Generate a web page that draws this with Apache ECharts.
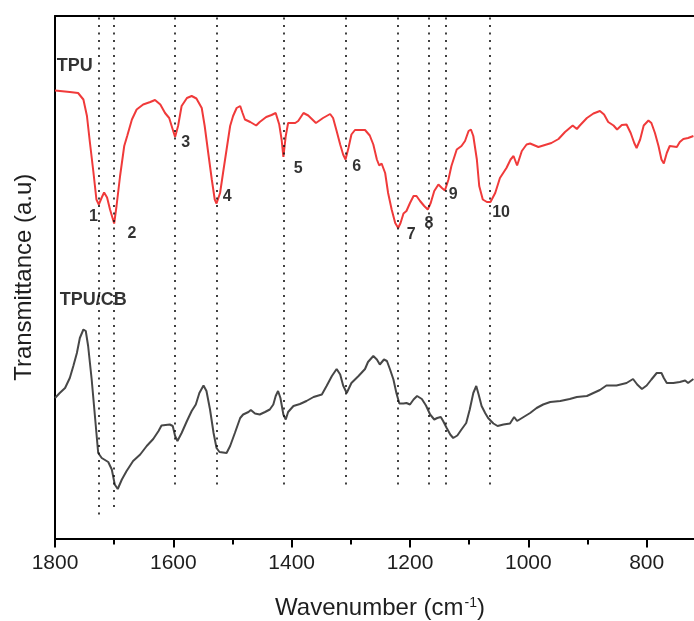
<!DOCTYPE html>
<html>
<head>
<meta charset="utf-8">
<title>FTIR spectra of TPU and TPU/CB</title>
<script src="https://cdn.jsdelivr.net/npm/echarts@6/dist/echarts.min.js"></script>
<style>
  html, body { margin: 0; padding: 0; background: #fff; }
  #chart { width: 694px; height: 621px; }
</style>
</head>
<body>
<div id="chart"></div>
<script>
// FTIR transmittance spectra, [wavenumber (cm-1), transmittance (a.u.)]
const tpuSpectrum = [
  [1800,89.6],[1775,89.3],[1761,89.1],[1752,87.8],[1746,84.5],[1741,79.2],[1735,73.2],[1730,67.8],
  [1726,66.8],[1721,68.2],[1717,69.2],[1712,68.2],[1707,65.8],[1700,63.0],[1696,66.5],[1690,72.5],
  [1683,78.5],[1678,80.5],[1670,83.8],[1662,85.8],[1651,86.8],[1639,87.3],[1631,87.7],[1622,86.8],
  [1614,85.1],[1607,84.1],[1601,81.8],[1597,80.3],[1592,82.5],[1586,86.5],[1577,88.1],[1569,88.5],
  [1561,88.0],[1552,86.1],[1547,82.5],[1541,77.1],[1535,71.8],[1530,67.8],[1527,67.0],[1521,69.1],
  [1516,73.1],[1510,77.8],[1504,82.5],[1499,84.5],[1493,86.1],[1487,86.5],[1483,85.1],[1479,83.8],
  [1470,83.3],[1460,82.6],[1454,83.3],[1443,84.3],[1434,84.7],[1427,85.1],[1421,82.8],[1417,79.8],
  [1414,76.3],[1410,80.5],[1406,83.1],[1403,83.5],[1394,83.1],[1389,83.5],[1380,85.1],[1372,84.6],
  [1359,83.1],[1347,84.1],[1335,84.9],[1330,84.1],[1324,81.5],[1318,78.8],[1313,76.8],[1309,75.8],
  [1304,78.1],[1299,80.8],[1293,81.7],[1276,81.7],[1268,80.6],[1262,78.8],[1256,75.8],[1252,74.6],
  [1248,75.0],[1242,73.1],[1237,69.1],[1231,65.8],[1225,63.1],[1220,62.1],[1216,63.1],[1211,65.0],
  [1206,65.5],[1200,67.1],[1194,68.5],[1189,68.5],[1183,67.5],[1176,66.5],[1170,65.8],[1165,67.1],
  [1159,69.5],[1152,70.8],[1146,70.1],[1141,69.6],[1135,71.8],[1130,74.5],[1121,77.8],[1113,78.5],
  [1107,79.5],[1101,81.5],[1097,81.8],[1093,80.5],[1087,75.8],[1083,70.5],[1077,67.8],[1070,67.3],
  [1064,67.3],[1056,69.1],[1048,72.1],[1037,74.1],[1030,75.8],[1025,76.5],[1019,74.6],[1011,77.5],
  [1003,78.8],[997,79.0],[983,78.3],[972,78.7],[961,79.1],[949,79.9],[938,81.3],[925,82.6],
  [918,81.9],[913,82.6],[901,84.1],[890,85.0],[879,85.5],[872,84.8],[865,83.3],[856,82.6],
  [850,81.8],[842,82.7],[834,82.8],[827,81.1],[821,79.1],[817,78.1],[811,79.8],[805,82.6],
  [797,83.6],[792,83.1],[786,81.1],[780,78.5],[775,75.8],[771,75.0],[766,77.1],[761,78.5],
  [749,78.3],[744,79.3],[738,79.9],[730,80.1],[721,80.5]
];

const tpuCbSpectrum = [
  [1800,28.1],[1792,29.1],[1783,30.1],[1775,32.1],[1769,34.5],[1763,37.1],[1758,40.1],[1752,41.8],
  [1748,41.5],[1744,38.5],[1738,31.8],[1732,23.8],[1727,17.1],[1721,16.1],[1710,15.3],[1704,13.8],
  [1699,10.8],[1694,9.9],[1687,11.8],[1679,13.5],[1668,15.5],[1656,16.8],[1645,18.5],[1634,19.9],
  [1625,21.5],[1620,22.6],[1606,22.8],[1601,22.5],[1597,20.5],[1593,19.5],[1586,21.1],[1577,23.5],
  [1569,25.5],[1562,26.8],[1556,29.1],[1549,30.6],[1544,29.5],[1538,25.8],[1532,21.1],[1527,18.1],
  [1522,17.3],[1510,17.1],[1504,18.5],[1496,21.1],[1487,24.1],[1482,24.8],[1473,25.3],[1469,25.7],
  [1462,25.0],[1454,24.8],[1445,25.3],[1437,25.8],[1431,26.8],[1427,28.5],[1423,29.5],[1419,28.1],
  [1414,24.8],[1410,23.8],[1406,25.3],[1397,26.5],[1386,26.9],[1375,27.5],[1363,28.3],[1349,28.8],
  [1341,30.5],[1332,32.5],[1324,33.9],[1318,32.8],[1313,30.6],[1307,29.1],[1299,31.1],[1287,32.5],
  [1276,33.9],[1271,35.3],[1262,36.5],[1256,35.8],[1251,34.8],[1244,35.8],[1239,35.5],[1234,33.9],
  [1228,31.8],[1223,29.1],[1218,27.0],[1211,27.0],[1206,27.1],[1200,26.8],[1194,27.8],[1188,28.5],
  [1180,27.9],[1173,26.6],[1166,24.8],[1159,23.8],[1154,24.1],[1148,24.3],[1144,23.5],[1138,22.1],
  [1132,20.8],[1127,20.1],[1120,20.6],[1113,21.8],[1105,23.1],[1099,25.8],[1093,29.1],[1088,30.5],
  [1084,28.8],[1079,26.5],[1073,25.1],[1068,24.1],[1059,23.0],[1052,22.5],[1042,22.8],[1031,23.0],
  [1024,24.3],[1019,23.5],[1008,24.3],[997,25.1],[986,26.1],[975,26.8],[963,27.3],[946,27.5],
  [930,27.9],[918,28.3],[901,28.5],[890,29.1],[879,29.7],[868,30.6],[851,30.6],[834,31.1],
  [823,31.9],[816,30.8],[808,29.9],[800,30.6],[792,31.8],[783,33.1],[775,33.1],[771,32.1],
  [766,31.1],[755,31.1],[744,31.3],[735,31.6],[730,31.1],[721,31.9]
];

// Assigned band positions (cm-1) and the lower end of each guide line
const peakWave = [1726, 1700, 1597, 1527, 1414, 1309, 1220, 1168, 1140, 1066];
const peakLineLow = [4.4, 5.8, 10.6, 10.2, 10.4, 10.4, 10.4, 10.4, 10.2, 10.0];
const peakLineTop = 104.2;

// Band numbers and where they sit, [wavenumber, transmittance]
const peakNames = ['1', '2', '3', '4', '5', '6', '7', '8', '9', '10'];
const peakLabelAt = [
  [1735, 64.4], [1670, 61.0], [1579, 79.2], [1509, 68.3], [1389, 74.0],
  [1290, 74.3], [1198, 60.8], [1168, 63.0], [1127, 68.8], [1046, 65.2]
];

// Sample names, [wavenumber, transmittance] of the text's left end
const sampleNames = ['TPU', 'TPU/CB'];
const sampleLabelAt = [[1797, 94.4], [1792, 47.6]];

// Axis ticks
const xMin = 600, xMax = 1800, xStep = 200;
const yMin = 0, yMax = 104.5;

const FONT = '"Liberation Sans", Arial, Helvetica, sans-serif';

const chart = echarts.init(document.getElementById('chart'), null, { renderer: 'canvas' });

const hiddenAxisParts = {
  axisTick: { show: false },
  axisLabel: { show: false },
  splitLine: { show: false }
};

chart.setOption({
  animation: false,
  backgroundColor: '#ffffff',
  textStyle: { fontFamily: FONT },
  // the wavenumber axis runs on past the right edge of the page
  grid: { left: 55, top: 16, bottom: 82.5, width: 710, containLabel: false, outerBoundsMode: 'none' },
  xAxis: [
    {
      type: 'value',
      min: xMin, max: xMax, interval: xStep,
      inverse: true,
      position: 'bottom',
      axisLine: { show: true, onZero: false, lineStyle: { color: '#000', width: 2 } },
      axisTick: { show: true, length: 9, inside: false, lineStyle: { color: '#000', width: 2 } },
      minorTick: { show: true, splitNumber: 2, length: 6, lineStyle: { color: '#000', width: 2 } },
      axisLabel: {
        show: true, fontSize: 21, color: '#1e1e1e', margin: 14, fontFamily: FONT,
        showMinLabel: false,
        formatter: v => String(v)
      },
      splitLine: { show: false },
      minorSplitLine: { show: false }
    },
    Object.assign({
      type: 'value',
      min: xMin, max: xMax, interval: xStep,
      inverse: true,
      position: 'top',
      axisLine: { show: true, onZero: false, lineStyle: { color: '#000', width: 2 } }
    }, hiddenAxisParts)
  ],
  yAxis: Object.assign({
    type: 'value',
    min: yMin, max: yMax,
    axisLine: { show: true, onZero: false, lineStyle: { color: '#000', width: 2 } },
    name: 'Transmittance (a.u)',
    nameLocation: 'middle',
    nameGap: 19,
    nameTextStyle: { fontSize: 24, color: '#1e1e1e', fontFamily: FONT }
  }, hiddenAxisParts),
  graphic: [
    {
      type: 'text',
      silent: true,
      style: {
        text: 'Wavenumber (cm{sup|-1})',
        x: 380, y: 608,
        align: 'center',
        verticalAlign: 'middle',
        fontSize: 24,
        fontFamily: FONT,
        fill: '#1e1e1e',
        rich: {
          sup: { fontSize: 14, fontFamily: FONT, fill: '#1e1e1e', verticalAlign: 'top', padding: [0, 0, 0, 1] }
        }
      }
    }
  ],
  series: [
    {
      name: 'TPU',
      type: 'line',
      data: tpuSpectrum,
      showSymbol: false,
      symbol: 'none',
      lineStyle: { color: '#f03a3a', width: 2 },
      itemStyle: { color: '#f03a3a' },
      silent: true,
      z: 3,
      markLine: {
        silent: true,
        symbol: ['none', 'none'],
        label: { show: false },
        lineStyle: { color: '#111', width: 1.6, type: [2, 5.5] },
        emphasis: { disabled: true },
        data: peakWave.map((w, i) => [
          { coord: [w, peakLineTop] },
          { coord: [w, peakLineLow[i]] }
        ])
      }
    },
    {
      name: 'TPU/CB',
      type: 'line',
      data: tpuCbSpectrum,
      showSymbol: false,
      symbol: 'none',
      lineStyle: { color: '#474747', width: 2 },
      itemStyle: { color: '#474747' },
      silent: true,
      z: 3
    },
    {
      name: 'band numbers',
      type: 'scatter',
      symbolSize: 0,
      silent: true,
      z: 5,
      data: peakLabelAt.map((p, i) => ({ name: peakNames[i], value: p })),
      label: {
        show: true,
        position: 'inside',
        formatter: '{b}',
        fontSize: 16,
        fontWeight: 'bold',
        color: '#000',
        textBorderWidth: 0,
        fontFamily: FONT
      }
    },
    {
      name: 'sample names',
      type: 'scatter',
      symbolSize: 0,
      silent: true,
      z: 5,
      data: sampleLabelAt.map((p, i) => ({ name: sampleNames[i], value: p })),
      label: {
        show: true,
        position: 'inside',
        align: 'left',
        formatter: '{b}',
        fontSize: 18,
        fontWeight: 'bold',
        color: '#000',
        textBorderWidth: 0,
        fontFamily: FONT
      }
    }
  ]
});
</script>
</body>
</html>
